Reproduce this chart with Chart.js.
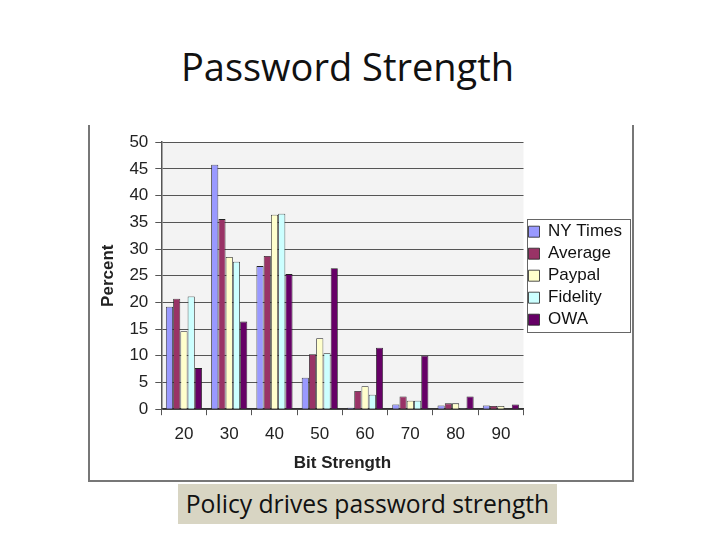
<!DOCTYPE html>
<html lang="en">
<head>
    <meta charset="UTF-8">
    <title>Password Strength</title>
    <style>
        body {
            margin: 0;
            padding: 0;
            background: #fff;
            width: 720px;
            height: 540px;
            position: relative;
            overflow: hidden;
        }

        .title {
            position: absolute;
            left: 0;
            width: 695px;
            top: 40px;
            text-align: center;
            font-family: "Open Sans", "Noto Sans", sans-serif;
            font-size: 38px;
            color: #111;
        }

        .chartFrame {
            position: absolute;
            left: 88px;
            top: 125px;
            width: 542px;
            height: 355px;
            border-left: 2px solid #777;
            border-right: 2px solid #777;
            border-bottom: 2px solid #777;
        }

        .caption {
            position: absolute;
            left: 178px;
            top: 484px;
            width: 379px;
            height: 40px;
            line-height: 39px;
            background: #d8d5c3;
            text-align: center;
            font-family: "Open Sans", "Noto Sans", sans-serif;
            font-size: 24.7px;
            color: #111;
        }
    </style>
</head>
<body>
    <div class="title">Password Strength</div>
    <div class="chartFrame">
        <canvas id="myChart" width="542" height="355"></canvas>
    </div>
    <div class="caption">Policy drives password strength</div>

    <script src="https://cdn.jsdelivr.net/npm/chart.js/dist/chart.umd.min.js"></script>
    <script>
        // data
        const bitStrength = ['20', '30', '40', '50', '60', '70', '80', '90']
        const nyTimes  = [19.2, 45.8, 26.8, 5.9, 0.25, 0.9, 0.7, 0.7]
        const average  = [20.7, 35.6, 28.7, 10.3, 3.4, 2.4, 1.1, 0.6]
        const paypal   = [14.6, 28.5, 36.4, 13.3, 4.3, 1.6, 1.1, 0.6]
        const fidelity = [21.1, 27.6, 36.6, 10.5, 2.7, 1.6, 0.2, 0]
        const owa      = [7.7, 16.4, 25.3, 26.4, 11.5, 10.0, 2.4, 0.9]
        const yTicks = [0, 5, 10, 15, 20, 25, 30, 35, 40, 45, 50]

        const seriesNames = ['NY Times', 'Average', 'Paypal', 'Fidelity', 'OWA']
        const seriesValues = [nyTimes, average, paypal, fidelity, owa]
        const seriesColors = ['#9999ff', '#993366', '#ffffcc', '#ccffff', '#660066']

        const font = 'Liberation Sans, Arial, sans-serif'

        const data = {
            labels: bitStrength,
            datasets: seriesNames.map((name, i) => ({
                label: name,
                data: seriesValues[i],
                backgroundColor: seriesColors[i],
                borderColor: '#222',
                borderWidth: 0.8,
                barPercentage: 0.98,
                categoryPercentage: 0.8
            }))
        }

        // grey plot area + box round the legend items
        const plotDecor = {
            id: 'plotDecor',
            beforeDraw(chart) {
                const { ctx, chartArea } = chart
                ctx.save()
                ctx.fillStyle = '#f3f3f3'
                ctx.fillRect(chartArea.left, chartArea.top, chartArea.right - chartArea.left, chartArea.bottom - chartArea.top)
                ctx.restore()
            },
            afterDraw(chart) {
                const lg = chart.legend
                const hits = lg.legendHitBoxes
                if (!hits || !hits.length) return
                const top = hits[0].top - 4
                const bottom = hits[hits.length - 1].top + hits[hits.length - 1].height + 4
                const ctx = chart.ctx
                ctx.save()
                ctx.strokeStyle = '#666'
                ctx.lineWidth = 1
                ctx.strokeRect(Math.round(lg.left) + 3.5, Math.round(top) + 0.5, Math.round(lg.right - lg.left) - 5, Math.round(bottom - top))
                ctx.restore()
            }
        }

        const config = {
            type: 'bar',
            data: data,
            plugins: [plotDecor],
            options: {
                responsive: false,
                animation: false,
                layout: {
                    padding: { top: 15, left: 4, right: 0, bottom: 2 }
                },
                plugins: {
                    legend: {
                        position: 'right',
                        fullSize: false,
                        labels: {
                            color: '#111',
                            boxWidth: 11,
                            boxHeight: 11,
                            padding: 5,
                            font: { family: font, size: 17 }
                        }
                    },
                    tooltip: { enabled: false }
                },
                scales: {
                    x: {
                        grid: {
                            offset: true,
                            drawOnChartArea: false,
                            color: '#555',
                            tickLength: 6
                        },
                        border: { color: '#333', width: 1.5 },
                        ticks: {
                            color: '#222',
                            padding: 9,
                            font: { family: font, size: 17 }
                        },
                        title: {
                            display: true,
                            text: 'Bit Strength',
                            color: '#222',
                            padding: { top: 0 },
                            font: { family: font, size: 17, weight: 'bold' }
                        }
                    },
                    y: {
                        min: 0,
                        max: 50,
                        afterBuildTicks: (axis) => {
                            axis.ticks = yTicks.map(v => ({ value: v }))
                        },
                        grid: {
                            color: '#555',
                            lineWidth: 1,
                            tickLength: 6
                        },
                        border: { color: '#555', width: 1.5 },
                        ticks: {
                            color: '#222',
                            padding: 7,
                            font: { family: font, size: 17 }
                        },
                        title: {
                            display: true,
                            text: 'Percent',
                            color: '#222',
                            padding: { bottom: 4 },
                            font: { family: font, size: 17, weight: 'bold' }
                        }
                    }
                }
            }
        }

        const myChart = new Chart(document.getElementById('myChart'), config)
    </script>
</body>
</html>
